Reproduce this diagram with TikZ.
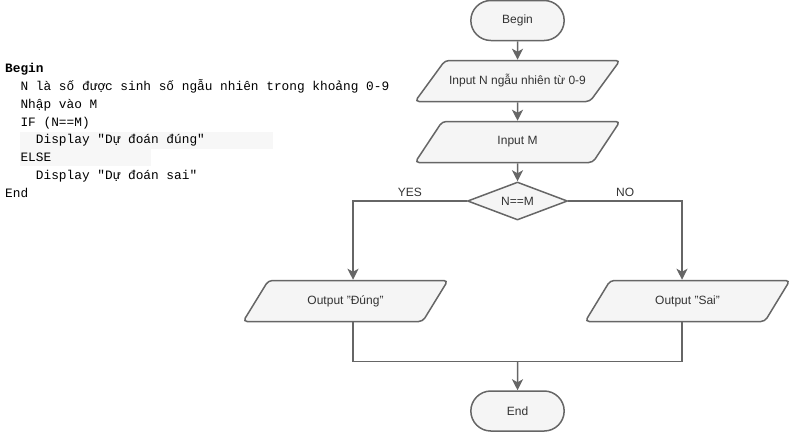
\documentclass[tikz,border=0pt]{standalone}
\usepackage{fontspec}
\setmainfont{Liberation Sans}
\newfontfamily\codefont{Liberation Mono}
\usetikzlibrary{shapes.geometric, shapes.misc, arrows.meta, positioning}
\definecolor{strokegray}{HTML}{666666}
\definecolor{fillgray}{HTML}{F5F5F5}
\definecolor{textgray}{HTML}{333333}
% narrow box so the text may run over the slanted sides
\newcommand{\iolabel}[1]{\makebox[90pt]{#1}}
\tikzset{
	terminal/.style={draw=strokegray, rounded rectangle, line width=1.5pt, fill=fillgray, text=textgray, minimum width=100pt, minimum height=40pt},
	io/.style={draw=strokegray, trapezium, trapezium stretches=true, trapezium left angle=#1, trapezium right angle={180-#1}, rounded corners=4pt, line width=1.5pt, fill=fillgray, text=textgray, minimum width=205pt, minimum height=41pt, inner sep=2pt},
	io/.default=41,
	decision/.style={draw=strokegray, diamond, aspect=2.6, line width=1.5pt, fill=fillgray, text=textgray, minimum width=100pt, minimum height=38pt, inner sep=0pt},
	% faint highlight behind some code lines
	codeline/.style={fill=black!3},
}

\begin{document}
\begin{tikzpicture}[x=1pt, y=-1pt, node distance=60pt, font=\fontsize{12}{14}\selectfont]
	\useasboundingbox (0,0) rectangle (794,432);
	
	\fill[codeline] (20,132) rectangle (273,149);
	\fill[codeline] (20,149) rectangle (151,166);
	
	\node (code) [anchor=base west, inner sep=0pt, align=left, font=\codefont\fontsize{12.8}{17.85}\selectfont] at (5,197.5) {\textbf{Begin}\\
		\ \ N là số được sinh số ngẫu nhiên trong khoảng 0-9\\
		\ \ Nhập vào M\\
		\ \ IF (N==M)\\
		\ \ \ \ Display "Dự đoán đúng"\\
		\ \ ELSE\\
		\ \ \ \ Display "Dự đoán sai"\\
		End};
	
	\node (begin) [terminal] at (517.5,20.5) {Begin};
	
	\node (inputN) [io, below of=begin, yshift=-0.5pt] {\iolabel{Input N ngẫu nhiên từ 0-9}};
	
	\node (inputM) [io, below of=inputN, yshift=-1pt] {\iolabel{Input M}};
	
	\node (cond) [decision, below of=inputM, yshift=1pt] {N==M};
	
	\node (outYes) [io=45, below of=cond, xshift=-172pt, yshift=-40pt] {\iolabel{Output "Đúng"}};
	
	\node (outNo) [io=45, below of=cond, xshift=170pt, yshift=-40pt] {\iolabel{Output "Sai"}};
	
	\node (end) [terminal, below of=cond, yshift=-150pt] {End};
	
	\begin{scope}[line width=1.5pt, strokegray, -{Stealth[length=11pt, width=11pt, inset=3pt]}]
		\draw (begin) -- (inputN);
		\draw (inputN) -- (inputM);
		\draw (inputM) -- (cond);
		\draw (cond.west) -| ([xshift=7.5pt]outYes.north) node [pos=0.25, above, text=textgray] {YES};
		\draw (cond.east) -| ([xshift=-5.5pt]outNo.north) node [pos=0.25, above, text=textgray] {NO};
		\draw [-] ([xshift=7.5pt]outYes.south) |- ([yshift=29pt]end.north) -| ([xshift=-5.5pt]outNo.south);
		\draw ([yshift=29pt]end.north) -- (end);
	\end{scope}
\end{tikzpicture}
\end{document}
